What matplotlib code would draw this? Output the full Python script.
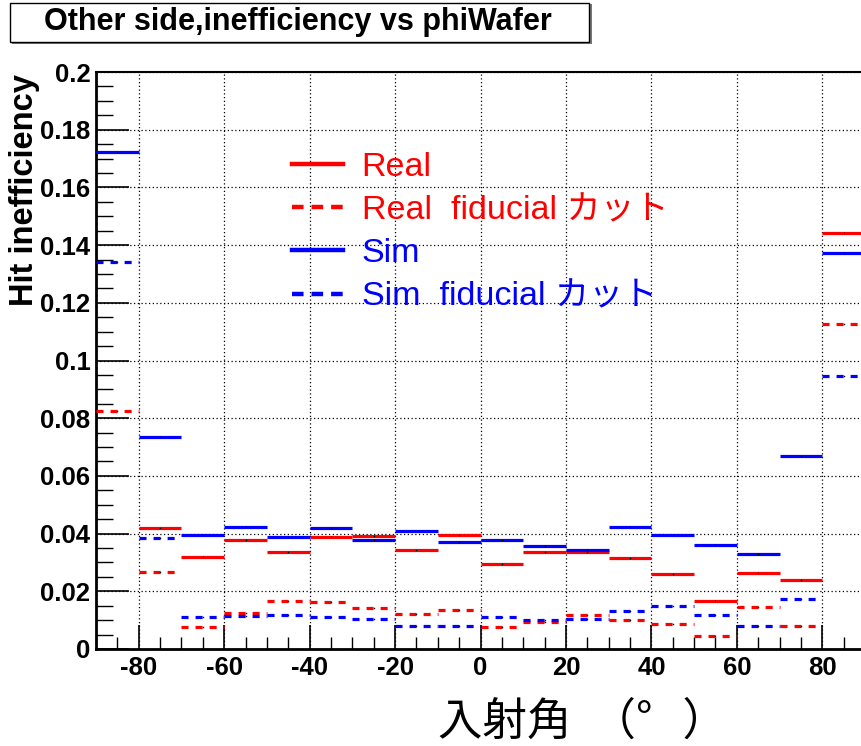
import numpy as np
import matplotlib
matplotlib.use("Agg")
import matplotlib.pyplot as plt
from matplotlib.lines import Line2D
from matplotlib.patches import Rectangle
from matplotlib.ticker import MultipleLocator

plt.rcParams["axes.unicode_minus"] = False

# Bin edges of the incidence-angle histogram (degrees)
bin_edges = np.arange(-90, 91, 10)

# Hit inefficiency per bin
real = [np.nan, 0.0421, 0.0319, 0.0378, 0.0335, 0.0389, 0.0392, 0.0342, 0.0395,
        0.0293, 0.0335, 0.0335, 0.0314, 0.0259, 0.0168, 0.0262, 0.0240, 0.1441]
real_fid = [0.0824, 0.0266, 0.0075, 0.0126, 0.0168, 0.0164, 0.0142, 0.0122, 0.0135,
            0.0075, 0.0095, 0.0118, 0.0101, 0.0087, 0.0044, 0.0146, 0.0079, 0.1125]
sim = [0.1722, 0.0735, 0.0395, 0.0424, 0.0388, 0.0421, 0.0378, 0.0410, 0.0371,
       0.0378, 0.0357, 0.0343, 0.0424, 0.0395, 0.0360, 0.0328, 0.0669, 0.1372]
sim_fid = [0.1340, 0.0386, 0.0111, 0.0116, 0.0118, 0.0111, 0.0104, 0.0079, 0.0079,
           0.0111, 0.0101, 0.0104, 0.0132, 0.0149, 0.0118, 0.0079, 0.0173, 0.0947]

series_labels = ["Real", "Real  fiducial カット", "Sim", "Sim  fiducial カット"]
x_ticks = [-80, -60, -40, -20, 0, 20, 40, 60, 80]
y_ticks = [0, 0.02, 0.04, 0.06, 0.08, 0.1, 0.12, 0.14, 0.16, 0.18, 0.2]
y_tick_labels = ["0", "0.02", "0.04", "0.06", "0.08", "0.1", "0.12", "0.14", "0.16", "0.18", "0.2"]

title = "Other side,inefficiency vs phiWafer"
y_title = "Hit inefficiency"
x_title = "入射角  （°   ）"

W, H = 861, 746
fig = plt.figure(figsize=(W / 100, H / 100), dpi=100)
fig.patch.set_facecolor("white")

left, right, top, bottom = 96, 865, 72, 649
ax = fig.add_axes([left / W, 1 - bottom / H, (right - left) / W, (bottom - top) / H])
ax.set_xlim(-90, 90)
ax.set_ylim(0, 0.2)

lw = 2.3
dash = (0, (2.2, 2.2))
styles = [
    (real, "#ff0000", "-"),
    (real_fid, "#ff0000", dash),
    (sim, "#0000ff", "-"),
    (sim_fid, "#0000ff", dash),
]
lo, hi = bin_edges[:-1], bin_edges[1:]
centers = 0.5 * (lo + hi)
for vals, col, ls in styles:
    vals = np.asarray(vals, dtype=float)
    ax.hlines(vals, lo, hi, colors=col, linestyles=ls, linewidth=lw, zorder=3)
    ax.plot(centers, vals, "s", color="black", ms=1.0, mew=0, zorder=4)

# Axes decoration
ax.set_xticks(x_ticks)
ax.set_yticks(y_ticks)
ax.set_yticklabels(y_tick_labels)
ax.xaxis.set_minor_locator(MultipleLocator(5))
ax.yaxis.set_minor_locator(MultipleLocator(0.005))
ax.tick_params(axis="both", which="major", direction="in", length=17, width=1.2,
               labelsize=18.5)
ax.tick_params(axis="x", which="major", pad=5)
ax.tick_params(axis="y", which="major", pad=4, length=24)
ax.tick_params(axis="both", which="minor", direction="in", length=9, width=1.0)
ax.tick_params(axis="y", which="minor", length=12)
ax.tick_params(top=False, right=False, which="both")
for lab in ax.get_xticklabels() + ax.get_yticklabels():
    lab.set_fontweight("bold")
    lab.set_family("Liberation Sans")
ax.grid(True, which="major", linestyle=(0, (1, 2)), color="black", linewidth=0.9)
ax.set_axisbelow(True)
for side in ["left", "bottom"]:
    ax.spines[side].set_linewidth(2.0)
ax.spines["top"].set_linewidth(1.5)
ax.spines["right"].set_linewidth(1.5)

ax.set_ylabel(y_title, fontsize=23.5, fontweight="bold", family="Liberation Sans")
ax.yaxis.set_label_coords((40 - left) / (right - left), 1 - (190 - top) / (bottom - top))

# Legend
handles = [Line2D([], [], color=c, linestyle=ls, linewidth=3.2) for _, c, ls in styles]
handles[1].set_linestyle((0, (2.6, 1.8)))
handles[3].set_linestyle((0, (2.6, 1.8)))
leg = ax.legend(handles, series_labels, loc="upper left",
                bbox_to_anchor=(268 / W, 1 - 128 / H), bbox_transform=fig.transFigure,
                frameon=False, handlelength=1.5, handletextpad=0.55, labelspacing=0.36,
                borderpad=0.2, labelcolor="linecolor",
                prop={"family": ["Liberation Sans", "Noto Sans CJK JP"], "size": 24.5})

# Title box
fig.patches.append(Rectangle((12 / W, 1 - 44 / H), 580 / W, 40 / H, transform=fig.transFigure,
                             facecolor="#777777", edgecolor="none", zorder=1))
fig.patches.append(Rectangle((10 / W, 1 - 42 / H), 579 / W, 39 / H, transform=fig.transFigure,
                             facecolor="white", edgecolor="black", linewidth=1.0, zorder=2))
fig.text(298 / W, 1 - 22 / H, title, ha="center", va="center", fontsize=22,
         fontweight="bold", family="Liberation Sans", zorder=3)

# X-axis title
fig.text(438 / W, 1 - 722 / H, x_title, ha="left", va="center", fontsize=32,
         family=["Noto Sans CJK JP", "DejaVu Sans"])

fig.savefig("out.png", dpi=100)
